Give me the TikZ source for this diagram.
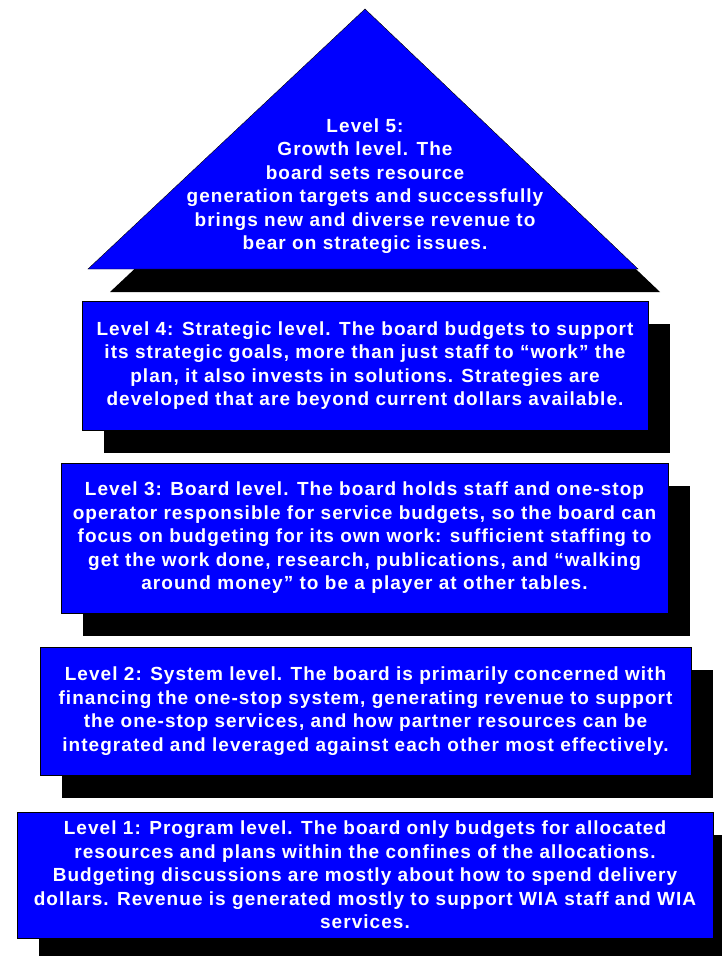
\documentclass[tikz,border=0pt]{standalone}
\usepackage{fontspec}
\setmainfont{Liberation Sans}[LetterSpace=5.5]
\usetikzlibrary{shadows}
\definecolor{lvlblue}{RGB}{0,0,255}
\tikzset{lvlfont/.style={text=white, font=\bfseries\fontsize{19}{23.5}\selectfont, align=center},
	lvlshadow/.style={drop shadow={shadow xshift=22pt, shadow yshift=-23pt, opacity=1, fill=black}},
	lvlbox/.style={lvlfont, lvlshadow, draw=black, fill=lvlblue, inner sep=0pt}}

\begin{document}
\begin{tikzpicture}[x=1pt,y=-1pt]
\useasboundingbox (0,0) rectangle (721,956);

% top of the pyramid
\draw [lvlshadow, fill=lvlblue] (365,9) coordinate (top) -- (638,269) coordinate (right) -- (88,269) coordinate (left) -- cycle;
\node [lvlfont] (l5) at (365,186) {Level 5:\\Growth level. The\\board sets resource\\generation targets and successfully\\brings new and diverse revenue to\\bear on strategic issues.};

\node [lvlbox, minimum width=566pt, minimum height=129pt] (l4) at (365,365.5) {Level 4: Strategic level. The board budgets to support\\its strategic goals, more than just staff to “work” the\\plan, it also invests in solutions. Strategies are\\developed that are beyond current dollars available.};

\node [lvlbox, minimum width=607pt, minimum height=150pt] (l3) at (364.5,538) {Level 3: Board level. The board holds staff and one-stop\\operator responsible for service budgets, so the board can\\focus on budgeting for its own work: sufficient staffing to\\get the work done, research, publications, and “walking\\around money” to be a player at other tables.};

\node [lvlbox, minimum width=651pt, minimum height=128pt] (l2) at (365.5,711) {Level 2: System level. The board is primarily concerned with\\financing the one-stop system, generating revenue to support\\the one-stop services, and how partner resources can be\\integrated and leveraged against each other most effectively.};

\node [lvlbox, minimum width=696pt, minimum height=126pt] (l1) at (365,875) {Level 1: Program level. The board only budgets for allocated\\resources and plans within the confines of the allocations.\\Budgeting discussions are mostly about how to spend delivery\\dollars. Revenue is generated mostly to support WIA staff and WIA\\services.};
\end{tikzpicture}
\end{document}
